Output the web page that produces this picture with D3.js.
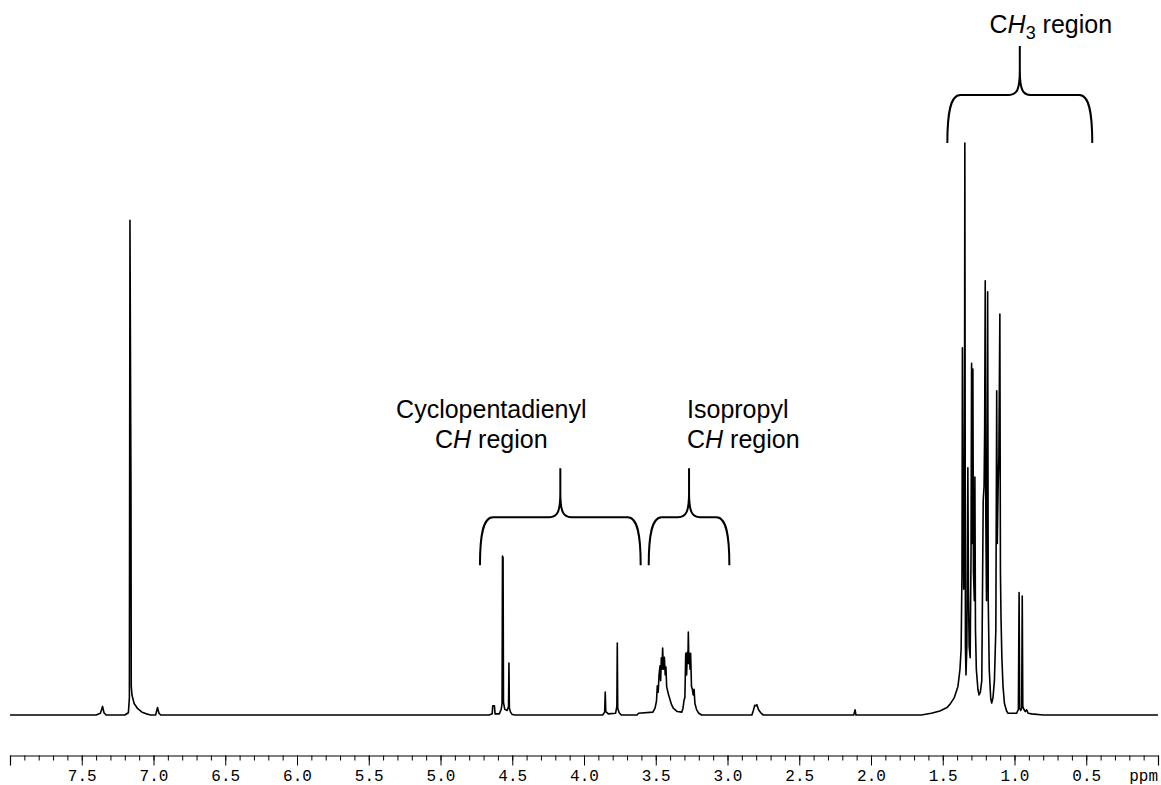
<!DOCTYPE html>
<html>
<head>
<meta charset="utf-8">
<script src="https://cdn.jsdelivr.net/npm/d3@7"></script>
<style>
body { margin: 0; background: #fff; }
</style>
</head>
<body>
<svg></svg>
<script>
// spectrum trace: [ppm, intensity (% of tallest line)]
var baselineEnds = [[8.0, 0], [0.0, 0]];

var solventPeaks = [
    [7.40, 0], [7.37, 0.3], [7.355, 1.5], [7.345, 0.4], [7.33, 0],
    [7.20, 0], [7.175, 0.4], [7.168, 3], [7.164, 86.5], [7.160, 59], [7.157, 40],
    [7.155, 5], [7.150, 3.5], [7.135, 2], [7.11, 1.1], [7.08, 0.5], [7.05, 0.2], [7.02, 0],
    [6.985, 0], [6.972, 1.3], [6.962, 0.3], [6.95, 0]
];

var cpPeaks = [
    [4.66, 0], [4.64, 0.2], [4.636, 1.6], [4.624, 1.6], [4.620, 0.2], [4.59, 0.2],
    [4.577, 1.0], [4.571, 2.0], [4.568, 27.8], [4.564, 27.5], [4.561, 2.2], [4.552, 1.0],
    [4.535, 0.8], [4.526, 1.5], [4.523, 9.1], [4.520, 1.2], [4.512, 0.5], [4.50, 0.1], [4.48, 0],
    [3.87, 0], [3.856, 0.5], [3.852, 4.0], [3.848, 0.6], [3.83, 0.2],
    [3.78, 0.3], [3.771, 1.5], [3.768, 12.6], [3.765, 1.2], [3.755, 0.4], [3.74, 0]
];

var isopropylPeaks = [
    [3.63, 0], [3.62, 0.3], [3.52, 0.5], [3.505, 1.2], [3.495, 2.4], [3.489, 5.1],
    [3.483, 4], [3.477, 7], [3.470, 8.6], [3.466, 6], [3.461, 10], [3.456, 8],
    [3.452, 11.7], [3.447, 8], [3.440, 10.1], [3.434, 7], [3.429, 8.4], [3.424, 5],
    [3.419, 4.4], [3.41, 3.5], [3.39, 1.8], [3.378, 1.2], [3.35, 0.6], [3.319, 0.5],
    [3.310, 1.2], [3.303, 2.6], [3.297, 3], [3.291, 10.8], [3.285, 7], [3.280, 11],
    [3.276, 9], [3.273, 14.5], [3.269, 9], [3.266, 10.8], [3.261, 8], [3.257, 10.8],
    [3.251, 5], [3.245, 4.5], [3.239, 3.5], [3.233, 4.5], [3.227, 2], [3.215, 0.9],
    [3.20, 0.3], [3.18, 0]
];

var minorPeaks = [
    [2.83, 0], [2.82, 0.8], [2.81, 1.7], [2.80, 1.6], [2.795, 1.8], [2.785, 1.0],
    [2.775, 0.6], [2.765, 0.3], [2.75, 0],
    [2.12, 0], [2.111, 0.9], [2.105, 0]
];

var methylPeaks = [
    [1.65, 0], [1.58, 0.3], [1.52, 0.7], [1.47, 1.3], [1.449, 1.9], [1.42, 3.0],
    [1.394, 5.0], [1.380, 8], [1.372, 11.5], [1.366, 25], [1.363, 64.2], [1.359, 40],
    [1.354, 22], [1.349, 35], [1.346, 100], [1.342, 12], [1.338, 7.0], [1.332, 12],
    [1.328, 30], [1.325, 43.2], [1.321, 22], [1.316, 12], [1.309, 10], [1.303, 28],
    [1.299, 61.5], [1.294, 30], [1.290, 60.5], [1.286, 25], [1.280, 20], [1.276, 41.6],
    [1.272, 15], [1.266, 8], [1.255, 4.5], [1.247, 3.5], [1.238, 4], [1.228, 6],
    [1.218, 37.6], [1.212, 40], [1.208, 50], [1.204, 75.9], [1.200, 35], [1.195, 20],
    [1.191, 35], [1.187, 74.0], [1.183, 20], [1.176, 8], [1.166, 3], [1.159, 2.1],
    [1.150, 3], [1.140, 6], [1.130, 15], [1.124, 56.7], [1.120, 30], [1.114, 40],
    [1.109, 45], [1.102, 70.1], [1.098, 25], [1.094, 17], [1.088, 10], [1.080, 5],
    [1.070, 2], [1.055, 0.7], [1.045, 0.3], [0.985, 0.3], [0.973, 1], [0.968, 21.4],
    [0.964, 1.2], [0.957, 0.8], [0.950, 1.2], [0.946, 20.8], [0.942, 1.5], [0.935, 1],
    [0.925, 0.6], [0.915, 0.9], [0.905, 0.3], [0.88, 0.2], [0.80, 0]
];

// axis
var majorTicks = [7.5, 7.0, 6.5, 6.0, 5.5, 5.0, 4.5, 4.0, 3.5, 3.0, 2.5, 2.0, 1.5, 1.0, 0.5];
var axisUnit = "ppm";

// bracketed regions: ppm span and the intensity the brace feet sit at
var regionFrom = [4.725, 3.549, 1.468];
var regionTo = [3.605, 2.987, 0.458];
var regionLevel = [26.2, 26.2, 100];

var screen = {width: 1161, height: 785};
var axisY = 755.5;

var svg = d3.select("svg")
    .attr("width", screen.width)
    .attr("height", screen.height);

var xScale = d3.scaleLinear().domain([8.0, 0.0]).range([10, 1158]);
var yScale = d3.scaleLinear().domain([0, 100]).range([715, 143]);

var trace = [].concat(baselineEnds, solventPeaks, cpPeaks, isopropylPeaks, minorPeaks, methylPeaks)
    .sort(function(a, b) { return b[0] - a[0]; });

var line = d3.line()
    .x(function(d) { return xScale(d[0]); })
    .y(function(d) { return yScale(d[1]); });

svg.append("path")
    .datum(trace)
    .attr("d", line)
    .attr("fill", "none")
    .attr("stroke", "#000")
    .attr("stroke-width", 1.6)
    .attr("stroke-linejoin", "round");

// minor ticks every 0.1 ppm
var minorAxis = d3.axisBottom(xScale)
    .tickValues(xScale.ticks(80))
    .tickSize(5)
    .tickFormat("");

svg.append("g")
    .attr("transform", "translate(0," + axisY + ")")
    .call(minorAxis)
    .call(function(g) { g.select(".domain").remove(); });

var majorAxis = d3.axisBottom(xScale)
    .tickValues(majorTicks)
    .tickFormat(d3.format(".1f"))
    .tickSize(10)
    .tickSizeOuter(10)
    .tickPadding(4);

var axisG = svg.append("g")
    .attr("transform", "translate(0," + axisY + ")")
    .call(majorAxis);

axisG.selectAll("text")
    .attr("font-family", "'Liberation Mono', 'DejaVu Sans Mono', monospace")
    .attr("font-size", 16)
    .attr("fill", "#000");

axisG.select(".domain").attr("stroke-width", 1.2);

svg.append("text")
    .attr("x", 1158)
    .attr("y", axisY + 25)
    .attr("text-anchor", "end")
    .attr("font-family", "'Liberation Mono', 'DejaVu Sans Mono', monospace")
    .attr("font-size", 16)
    .text(axisUnit);

// curly braces
var bracePath = function(x0, x1, yb)
{
    var xm = (x0 + x1) / 2;
    var yh = yb - 48;
    var yt = yb - 97;
    return "M" + x0 + "," + yb +
        "C" + x0 + "," + (yb - 30) + " " + (x0 + 3) + "," + yh + " " + (x0 + 13) + "," + yh +
        "L" + (xm - 11) + "," + yh +
        "C" + (xm - 3) + "," + yh + " " + xm + "," + (yh - 5) + " " + xm + "," + (yh - 25) +
        "L" + xm + "," + yt +
        "L" + xm + "," + (yh - 25) +
        "C" + xm + "," + (yh - 5) + " " + (xm + 3) + "," + yh + " " + (xm + 11) + "," + yh +
        "L" + (x1 - 13) + "," + yh +
        "C" + (x1 - 3) + "," + yh + " " + x1 + "," + (yb - 30) + " " + x1 + "," + yb;
};

regionFrom.forEach(function(d, i)
{
    svg.append("path")
        .attr("d", bracePath(xScale(d), xScale(regionTo[i]), yScale(regionLevel[i])))
        .attr("fill", "none")
        .attr("stroke", "#000")
        .attr("stroke-width", 2);
});

var labelFont = "'Liberation Sans', Arial, Helvetica, sans-serif";

var addText = function(x, y, anchor)
{
    return svg.append("text")
        .attr("x", x)
        .attr("y", y)
        .attr("text-anchor", anchor)
        .attr("font-family", labelFont)
        .attr("font-size", 25)
        .attr("fill", "#000");
};

var addGroup = function(t, sub)
{
    t.append("tspan").text("C");
    t.append("tspan").attr("font-style", "italic").text("H");
    if (sub) {
        t.append("tspan").attr("font-size", 18).attr("dy", 6).text(sub);
        t.append("tspan").attr("dy", -6).text(" region");
    } else {
        t.append("tspan").text(" region");
    }
};

var tipX = regionFrom.map(function(d, i) { return (xScale(d) + xScale(regionTo[i])) / 2; });

addText(tipX[0] - 69, 418, "middle").text("Cyclopentadienyl");
addGroup(addText(tipX[0] - 69, 448, "middle"), "");

addText(tipX[1] - 2, 418, "start").text("Isopropyl");
addGroup(addText(tipX[1] - 2, 448, "start"), "");

addGroup(addText(tipX[2] + 31, 33, "middle"), "3");
</script>
</body>
</html>
